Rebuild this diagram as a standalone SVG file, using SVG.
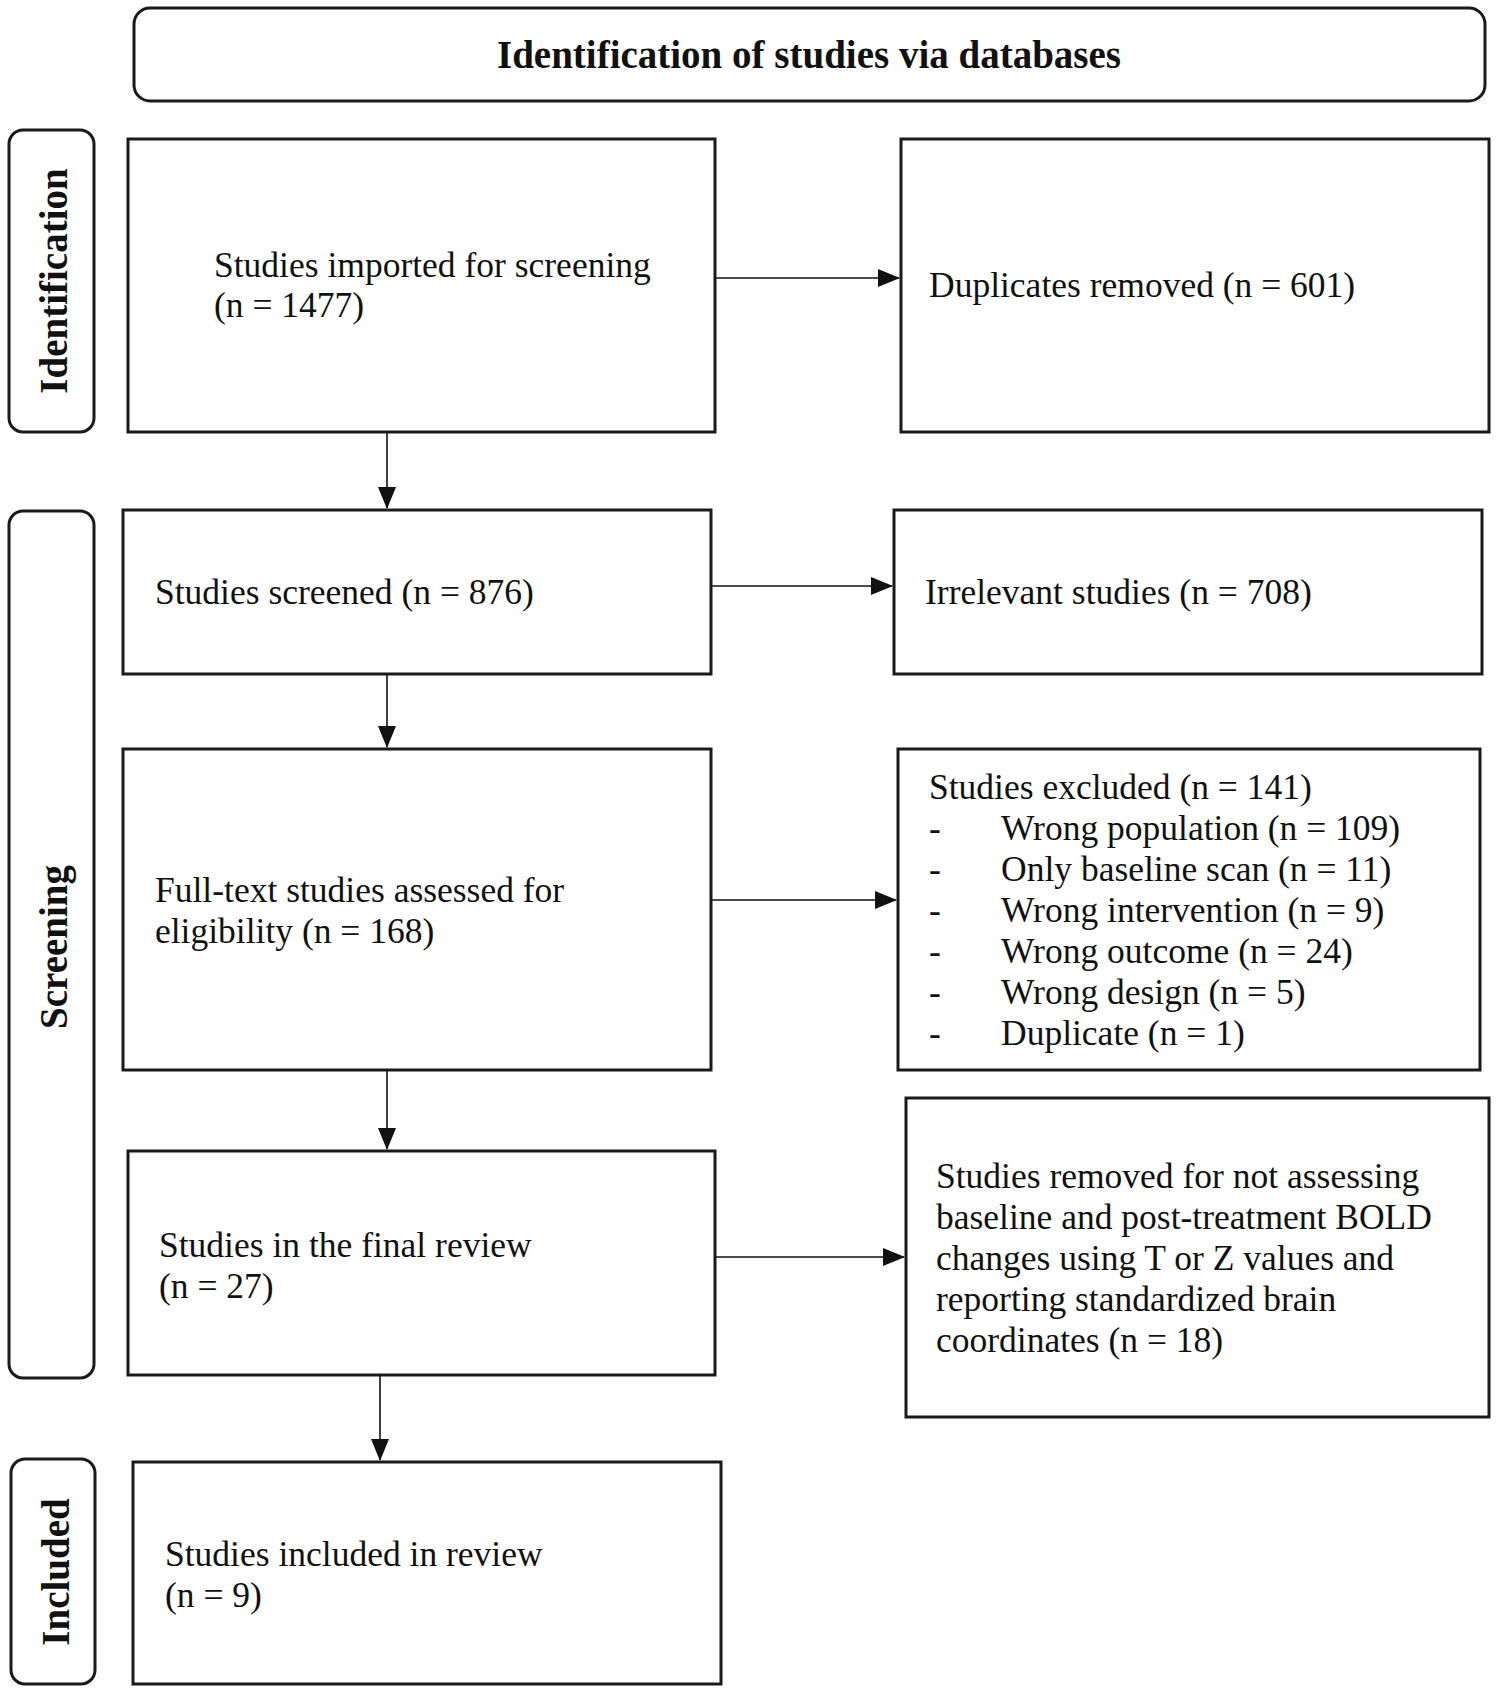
<svg xmlns="http://www.w3.org/2000/svg" width="1496" height="1696" viewBox="0 0 1496 1696">
<defs>
<marker id="arr" markerWidth="22" markerHeight="18" refX="21" refY="9" orient="auto" markerUnits="userSpaceOnUse">
<path d="M0,0 L22,9 L0,18 Z" fill="#111"/>
</marker>
<style>
.box{fill:#fff;stroke:#1a1a1a;stroke-width:3}
.lab{fill:#fff;stroke:#1a1a1a;stroke-width:3}
.t{font-family:"Liberation Serif","Times New Roman",serif;font-size:35.5px;fill:#111}
.b{font-family:"Liberation Serif","Times New Roman",serif;font-size:39px;font-weight:bold;fill:#111}
.c{stroke:#111;stroke-width:1.6;fill:none;marker-end:url(#arr)}
</style>
</defs>
<rect width="1496" height="1696" fill="#fff"/>

<g id="header">
<rect class="lab" x="134" y="8" width="1351" height="93" rx="16"/>
<text class="b" x="809" y="68" text-anchor="middle">Identification of studies via databases</text>
</g>

<g id="label-identification">
<rect class="lab" x="9" y="130" width="85" height="302" rx="14"/>
<text class="b" transform="translate(67,281) rotate(-90)" text-anchor="middle">Identification</text>
</g>
<g id="label-screening">
<rect class="lab" x="9" y="511" width="85" height="867" rx="14"/>
<text class="b" transform="translate(67,947) rotate(-90)" text-anchor="middle">Screening</text>
</g>
<g id="label-included">
<rect class="lab" x="11" y="1459" width="84" height="225" rx="14"/>
<text class="b" transform="translate(69,1572) rotate(-90)" text-anchor="middle">Included</text>
</g>

<g id="imported">
<rect class="box" x="128" y="139" width="587" height="293"/>
<text class="t" x="214" y="277">Studies imported for screening</text>
<text class="t" x="214" y="317">(n = 1477)</text>
</g>
<g id="duplicates">
<rect class="box" x="901" y="139" width="588" height="293"/>
<text class="t" x="929" y="297">Duplicates removed (n = 601)</text>
</g>
<g id="screened">
<rect class="box" x="123" y="510" width="588" height="164"/>
<text class="t" x="155" y="604">Studies screened (n = 876)</text>
</g>
<g id="irrelevant">
<rect class="box" x="894" y="510" width="588" height="164"/>
<text class="t" x="925" y="604">Irrelevant studies (n = 708)</text>
</g>
<g id="fulltext">
<rect class="box" x="123" y="749" width="588" height="321"/>
<text class="t" x="155" y="902">Full-text studies assessed for</text>
<text class="t" x="155" y="943">eligibility (n = 168)</text>
</g>
<g id="excluded">
<rect class="box" x="898" y="749" width="582" height="321"/>
<text class="t" x="929" y="799">Studies excluded (n = 141)</text>
<text class="t" x="929" y="840">-</text><text class="t" x="1001" y="840">Wrong population (n = 109)</text>
<text class="t" x="929" y="881">-</text><text class="t" x="1001" y="881">Only baseline scan (n = 11)</text>
<text class="t" x="929" y="922">-</text><text class="t" x="1001" y="922">Wrong intervention (n = 9)</text>
<text class="t" x="929" y="963">-</text><text class="t" x="1001" y="963">Wrong outcome (n = 24)</text>
<text class="t" x="929" y="1004">-</text><text class="t" x="1001" y="1004">Wrong design (n = 5)</text>
<text class="t" x="929" y="1045">-</text><text class="t" x="1001" y="1045">Duplicate (n = 1)</text>
</g>
<g id="finalreview">
<rect class="box" x="128" y="1151" width="587" height="224"/>
<text class="t" x="159" y="1257">Studies in the final review</text>
<text class="t" x="159" y="1298">(n = 27)</text>
</g>
<g id="removed">
<rect class="box" x="906" y="1098" width="583" height="319"/>
<text class="t" x="936" y="1188">Studies removed for not assessing</text>
<text class="t" x="936" y="1229">baseline and post-treatment BOLD</text>
<text class="t" x="936" y="1270">changes using T or Z values and</text>
<text class="t" x="936" y="1311">reporting standardized brain</text>
<text class="t" x="936" y="1352">coordinates (n = 18)</text>
</g>
<g id="included">
<rect class="box" x="133" y="1462" width="588" height="222"/>
<text class="t" x="165" y="1566">Studies included in review</text>
<text class="t" x="165" y="1607">(n = 9)</text>
</g>

<g id="connectors">
<line class="c" x1="715" y1="278" x2="899" y2="278"/>
<line class="c" x1="387" y1="432" x2="387" y2="508"/>
<line class="c" x1="711" y1="586" x2="892" y2="586"/>
<line class="c" x1="387" y1="674" x2="387" y2="747"/>
<line class="c" x1="711" y1="900" x2="896" y2="900"/>
<line class="c" x1="387" y1="1070" x2="387" y2="1149"/>
<line class="c" x1="715" y1="1257" x2="904" y2="1257"/>
<line class="c" x1="380" y1="1375" x2="380" y2="1460"/>
</g>
</svg>
